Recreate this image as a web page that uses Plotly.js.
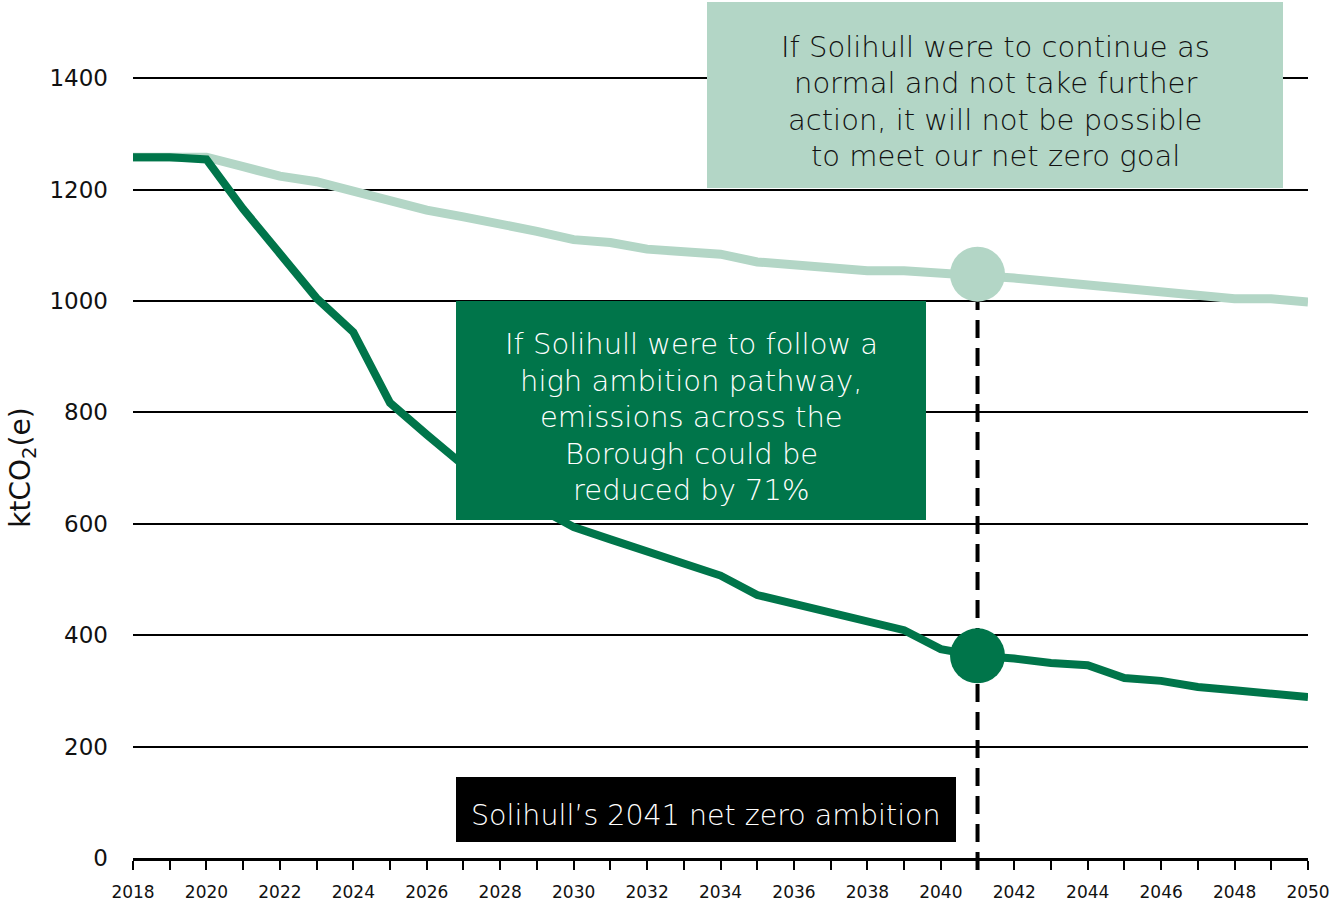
<!DOCTYPE html>
<html>
<head>
<meta charset="utf-8">
<script src="https://cdn.plot.ly/plotly-3.0.1.min.js"></script>
<style>html,body{margin:0;padding:0;background:#fff;}#chart{width:1333px;height:905px;}</style>
</head>
<body>
<div id="chart"></div>
<script>
const years = [2018,2019,2020,2021,2022,2023,2024,2025,2026,2027,2028,2029,2030,2031,2032,2033,2034,2035,2036,2037,2038,2039,2040,2041,2042,2043,2044,2045,2046,2047,2048,2049,2050];
const highAmbition = [1258,1258,1254,1165,1085,1005,944,817,760,705,666,630,594,572,550,528,507,472,456,441,425,409,375,363,358,350,346,323,318,307,301,295,289];
const businessAsUsual = [1258,1258,1258,1241,1224,1214,1197,1180,1163,1151,1139,1125,1110,1105,1093,1088,1084,1070,1065,1060,1054,1054,1051,1048,1041,1035,1028,1021,1015,1010,1004,1004,998];
const netZeroYear = 2041;
const yTicks = [0,200,400,600,800,1000,1200,1400];
const xTickLabels = ['2018','2020','2022','2024','2026','2028','2030','2032','2034','2036','2038','2040','2042','2044','2046','2048','2050'];

const bauText = ['If Solihull were to continue as','normal and not take further','action, it will not be possible','to meet our net zero goal'];
const highText = ['If Solihull were to follow a','high ambition pathway,','emissions across the','Borough could be','reduced by 71%'];
const ambitionText = 'Solihull\u2019s 2041 net zero ambition';

const DARK = '#00754A';
const LIGHT = '#B3D6C6';
const FONT = '"DejaVu Sans", Inter, sans-serif';

// pixel -> paper helpers (plot area: x 133..1308, y 77..858)
const L = 133, R = 25, T = 77, B = 47, W = 1333, H = 905;
const pw = W - L - R, ph = H - T - B;
const px = x => (x - L) / pw;
const py = y => (H - B - y) / ph;

const idx = years.indexOf(netZeroYear);
const xmin = years[0], xmax = years[years.length - 1];
const nzPaperX = (netZeroYear - xmin) / (xmax - xmin);

const traces = [
  {x: years, y: businessAsUsual, type: 'scatter', mode: 'lines',
   line: {color: LIGHT, width: 9}, hoverinfo: 'skip'},
  {x: years, y: highAmbition, type: 'scatter', mode: 'lines',
   line: {color: DARK, width: 8}, hoverinfo: 'skip'},
  {x: [netZeroYear], y: [businessAsUsual[idx]], type: 'scatter', mode: 'markers',
   marker: {color: LIGHT, size: 55}, cliponaxis: false, hoverinfo: 'skip'},
  {x: [netZeroYear], y: [highAmbition[idx]], type: 'scatter', mode: 'markers',
   marker: {color: DARK, size: 55}, cliponaxis: false, hoverinfo: 'skip'}
];

const shapes = [
  {type: 'line', xref: 'paper', yref: 'paper', x0: nzPaperX, x1: nzPaperX, y0: py(870), y1: py(300),
   line: {color: '#000', width: 4, dash: '18px,10px'}, layer: 'below'},
  {type: 'rect', xref: 'paper', yref: 'paper', x0: px(707), x1: px(1283), y0: py(188), y1: py(2),
   fillcolor: LIGHT, line: {width: 0}, layer: 'above'},
  {type: 'rect', xref: 'paper', yref: 'paper', x0: px(456), x1: px(926), y0: py(520), y1: py(301),
   fillcolor: DARK, line: {width: 0}, layer: 'above'},
  {type: 'rect', xref: 'paper', yref: 'paper', x0: px(456), x1: px(956), y0: py(842), y1: py(777),
   fillcolor: '#000', line: {width: 0}, layer: 'above'}
];

const annotations = [];
const boxFont = (color, size) => ({family: FONT, size: size, color: color, weight: 300});
const bauY = [47, 83, 120, 156];
bauText.forEach((t, i) => annotations.push({
  xref: 'paper', yref: 'paper', x: px(995), y: py(bauY[i]), text: t, showarrow: false,
  xanchor: 'center', yanchor: 'middle', font: boxFont('#111111', 29)
}));
const highY = [344, 381, 417, 454, 490];
highText.forEach((t, i) => annotations.push({
  xref: 'paper', yref: 'paper', x: px(691), y: py(highY[i]), text: t, showarrow: false,
  xanchor: 'center', yanchor: 'middle', font: boxFont('#ffffff', 29)
}));
annotations.push({
  xref: 'paper', yref: 'paper', x: px(706), y: py(815), text: ambitionText, showarrow: false,
  xanchor: 'center', yanchor: 'middle', font: boxFont('#ffffff', 28.5)
});

const layout = {
  width: W, height: H,
  margin: {l: L, r: R, t: T, b: B, pad: 0},
  paper_bgcolor: '#fff', plot_bgcolor: 'rgba(0,0,0,0)',
  showlegend: false,
  font: {family: FONT, color: '#111'},
  xaxis: {
    range: [xmin, xmax], tickmode: 'array',
    tickvals: xTickLabels.map(Number), ticktext: xTickLabels,
    ticks: 'outside', ticklen: 9, tickwidth: 2, tickcolor: '#000',
    minor: {tickmode: 'array', tickvals: years, ticks: 'outside', ticklen: 9, tickwidth: 2, tickcolor: '#000', showgrid: false},
    showline: true, linecolor: '#000', linewidth: 3,
    showgrid: false, zeroline: false,
    ticklabelstandoff: 8,
    tickfont: {family: FONT, size: 17, color: '#111'}
  },
  yaxis: {
    range: [0, 1402], tickmode: 'array', tickvals: yTicks, ticktext: yTicks.map(String),
    ticks: '', showline: false, zeroline: false,
    showgrid: true, gridcolor: '#000', gridwidth: 2,
    ticklabelstandoff: 24,
    tickfont: {family: FONT, size: 23, color: '#111'},
    title: {text: 'ktCO<sub>2</sub>(e)', font: {family: FONT, size: 28, color: '#111'}, standoff: 10}
  },
  shapes: shapes,
  annotations: annotations
};

Plotly.newPlot('chart', traces, layout, {displayModeBar: false, staticPlot: true});
</script>
</body>
</html>
